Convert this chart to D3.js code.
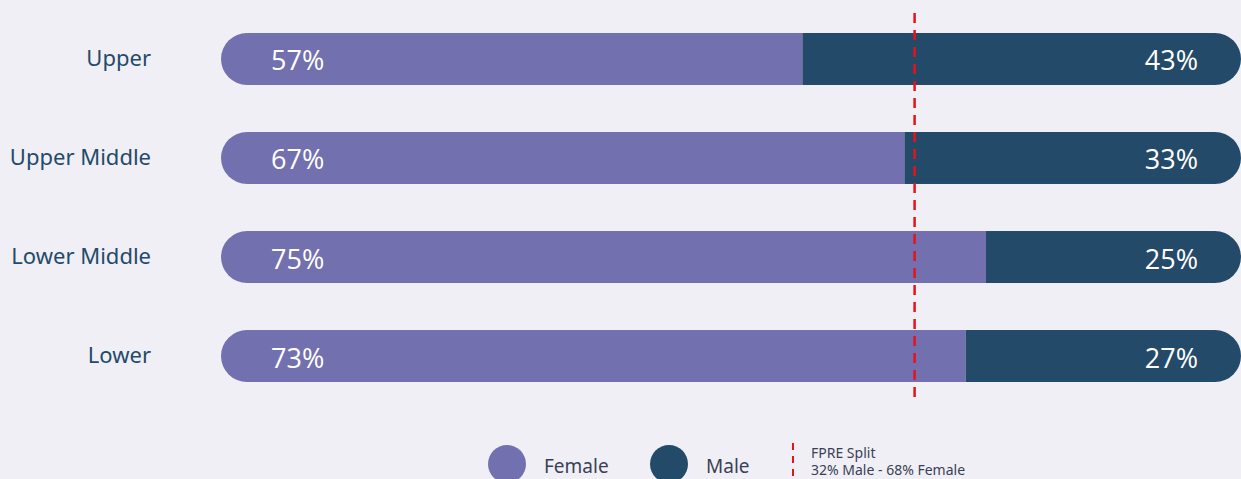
<!DOCTYPE html>
<html>
<head>
<meta charset="utf-8">
<script src="https://cdn.jsdelivr.net/npm/d3@7"></script>
<style>
  body { margin: 0; background: #f0eff5; }
  svg { display: block; }
</style>
</head>
<body>
<div id="chart"></div>
<script>
// data
const categories = ["Upper", "Upper Middle", "Lower Middle", "Lower"];
const female = [57, 67, 75, 73];
const male = [43, 33, 25, 27];
const splitFemale = 68; // FPRE split line
const legendLabels = ["Female", "Male"];
const splitLines = ["FPRE Split", "32% Male - 68% Female"];

const colors = {female: "#7370b0", male: "#244a6a", text: "#244a6a", split: "#e8121b"};
const labelFont = "'Noto Sans', sans-serif";

const width = 1241, height = 479;
const svg = d3.select("#chart").append("svg")
    .attr("width", width)
    .attr("height", height);

const x = d3.scaleLinear().domain([0, 100]).range([221, 1241]);
const y = d3.scaleBand()
    .domain(categories)
    .range([33, 382])
    .paddingInner(0.475)
    .paddingOuter(0);

const barH = y.bandwidth();

// category labels
svg.append("g").selectAll("text")
    .data(categories)
    .enter().append("text")
    .attr("x", 151)
    .attr("y", d => y(d) + barH / 2 - 2)
    .attr("text-anchor", "end")
    .attr("dominant-baseline", "central")
    .attr("font-family", labelFont)
    .attr("font-size", 22)
    .attr("fill", colors.text)
    .text(d => d);

const rows = categories.map((c, i) => ({cat: c, f: female[i], m: male[i], i: i}));

const defs = svg.append("defs");
rows.forEach(d => {
    defs.append("clipPath").attr("id", "clip" + d.i)
        .append("rect")
        .attr("x", x(0))
        .attr("y", y(d.cat))
        .attr("width", x(100) - x(0))
        .attr("height", barH)
        .attr("rx", barH / 2);
});

const bars = svg.append("g").selectAll("g")
    .data(rows)
    .enter().append("g")
    .attr("clip-path", d => "url(#clip" + d.i + ")");

bars.append("rect")
    .attr("x", x(0))
    .attr("y", d => y(d.cat))
    .attr("width", d => x(d.f) - x(0))
    .attr("height", barH)
    .attr("fill", colors.female);

bars.append("rect")
    .attr("x", d => x(d.f))
    .attr("y", d => y(d.cat))
    .attr("width", d => x(d.f + d.m) - x(d.f))
    .attr("height", barH)
    .attr("fill", colors.male);

const pctFont = "'Open Sans', 'Noto Sans', sans-serif";
svg.append("g").selectAll("text")
    .data(rows)
    .enter().append("text")
    .attr("x", 271)
    .attr("y", d => y(d.cat) + barH / 2 + 1)
    .attr("dominant-baseline", "central")
    .attr("font-family", pctFont)
    .attr("font-size", 27)
    .attr("fill", "#fff")
    .text(d => d.f + "%");

svg.append("g").selectAll("text")
    .data(rows)
    .enter().append("text")
    .attr("x", 1198)
    .attr("y", d => y(d.cat) + barH / 2 + 1)
    .attr("text-anchor", "end")
    .attr("dominant-baseline", "central")
    .attr("font-family", pctFont)
    .attr("font-size", 27)
    .attr("fill", "#fff")
    .text(d => d.m + "%");

// FPRE split line
svg.append("line")
    .attr("x1", x(splitFemale)).attr("x2", x(splitFemale))
    .attr("y1", 13).attr("y2", 404)
    .attr("stroke", colors.split)
    .attr("stroke-width", 2.5)
    .attr("stroke-dasharray", "10,7");

// legend
const legend = svg.append("g");
const legX = [507, 669];
const legCol = [colors.female, colors.male];
legendLabels.forEach((l, i) => {
    legend.append("circle")
        .attr("cx", legX[i]).attr("cy", 464).attr("r", 19)
        .attr("fill", legCol[i]);
    legend.append("text")
        .attr("x", legX[i] + 37).attr("y", 473)
        .attr("font-family", labelFont)
        .attr("font-size", 19)
        .attr("fill", "#3a3f55")
        .text(l);
});
legend.append("line")
    .attr("x1", 793).attr("x2", 793)
    .attr("y1", 443).attr("y2", 479)
    .attr("stroke", colors.split)
    .attr("stroke-width", 2)
    .attr("stroke-dasharray", "7,6");
splitLines.forEach((t, i) => {
    legend.append("text")
        .attr("x", 811).attr("y", 458 + i * 17)
        .attr("font-family", labelFont)
        .attr("font-size", 14)
        .attr("fill", "#3a3f55")
        .text(t);
});
</script>
</body>
</html>
